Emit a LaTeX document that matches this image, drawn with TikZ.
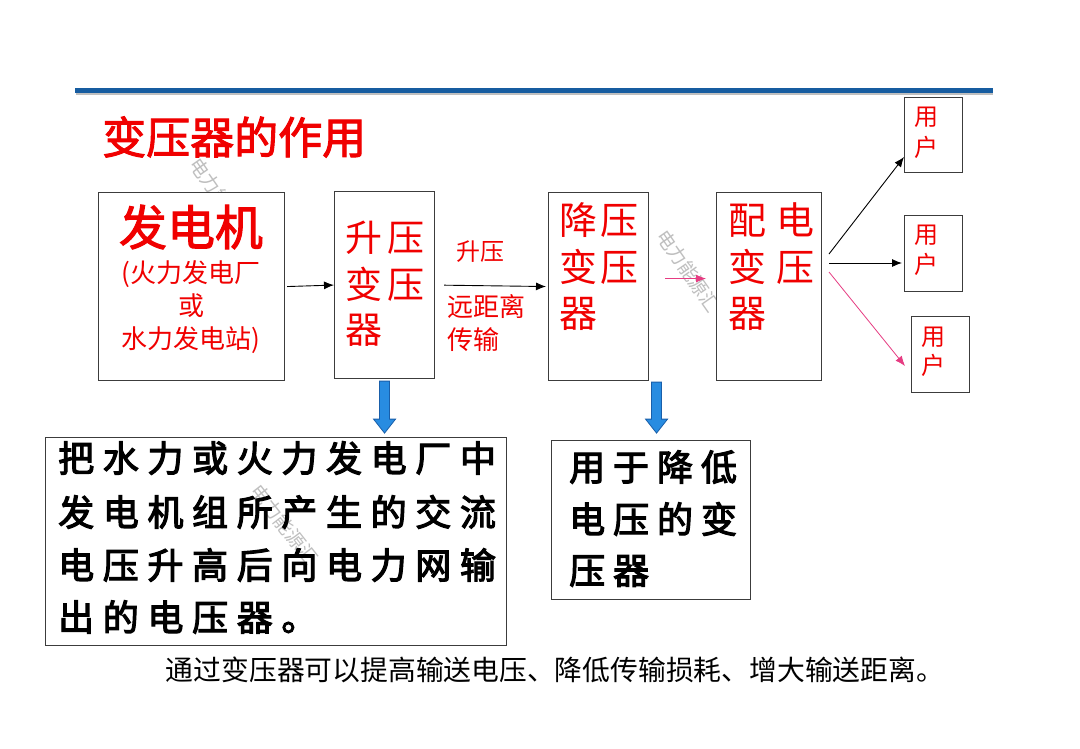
\documentclass[tikz,border=0pt]{standalone}
\usepackage{fontspec}
\newfontfamily\cjk{Noto Sans CJK SC}
\newfontfamily\cjkb[FakeBold=2.2]{Noto Sans CJK SC}
\newfontfamily\cjkbs[FakeBold=3.2,LetterSpace=24]{Noto Sans CJK SC}
\newfontfamily\cjkbt[FakeBold=3.2,LetterSpace=22]{Noto Sans CJK SC}
\usetikzlibrary{arrows.meta}
\definecolor{topblue}{RGB}{22,92,160}
\definecolor{frame}{RGB}{60,60,60}
\definecolor{txtred}{RGB}{240,0,0}
\definecolor{pinkarr}{RGB}{230,60,130}
\definecolor{blockfill}{RGB}{40,140,225}
\definecolor{blockline}{RGB}{25,95,170}
\tikzset{
  box/.style={draw=frame, line width=1.1pt, fill=white, anchor=north west, inner sep=0pt},
  redtxt/.style={text=txtred, font=\cjk, inner sep=0pt},
  conn/.style={-{Latex[length=10pt,width=8pt]}, line width=0.9pt},
  wm/.style={text=black!25, font=\cjk\fontsize{19}{19}\selectfont, inner sep=0pt, anchor=west},
  blockarrow/.style={fill=blockfill, draw=blockline, line width=0.8pt, line join=miter},
}
\begin{document}
\begin{tikzpicture}[x=1pt,y=-1pt]
\useasboundingbox[fill=white] (0,0) rectangle (1080,748);
% top rule
\draw[black!25, line width=3pt] (76,93) -- (993,93);
\draw[topblue, line width=5pt] (75,90) -- (993,90);
% title
\node[redtxt, font=\cjkb\fontsize{44}{44}\selectfont, anchor=west] (title) at (102,137) {变压器的作用};
% watermarks behind boxes
\node[wm, rotate=-55] (wm1) at (194,160) {电力能源汇};
\node[wm, rotate=-55] (wm2) at (661,232) {电力能源汇};
% main boxes
\node[box, minimum width=186pt, minimum height=188pt] (gen) at (98,192) {};
\node[box, minimum width=100pt, minimum height=187pt] (up) at (334,191) {};
\node[box, minimum width=100pt, minimum height=188pt] (down) at (548,192) {};
\node[box, minimum width=105pt, minimum height=188pt] (dist) at (716,192) {};
\node[box, minimum width=58pt, minimum height=75pt] (u1) at (904,97) {};
\node[box, minimum width=58pt, minimum height=76pt] (u2) at (904,215) {};
\node[box, minimum width=58pt, minimum height=76pt] (u3) at (911,316) {};
\node[box, minimum width=461pt, minimum height=208pt] (desc1) at (45,437) {};
\node[box, minimum width=199pt, minimum height=159pt] (desc2) at (551,440) {};
\node[wm, rotate=-52] (wm3) at (255,487) {电力能源汇};
% generator text
\node[redtxt, font=\cjkb\fontsize{48}{48}\selectfont] (t1) at (191,227) {发电机};
\node[redtxt, font=\cjk\fontsize{26}{26}\selectfont] (t2) at (191,274) {(火力发电厂};
\node[redtxt, font=\cjk\fontsize{26}{26}\selectfont] (t3) at (191,306) {或};
\node[redtxt, font=\cjk\fontsize{26}{26}\selectfont] (t4) at (191,340) {水力发电站)};
% step-up text
\node[redtxt, font=\cjk\fontsize{37}{37}\selectfont, anchor=west] (s1) at (345,238) {升\hspace{5pt}压};
\node[redtxt, font=\cjk\fontsize{37}{37}\selectfont, anchor=west] (s2) at (345,284) {变\hspace{5pt}压};
\node[redtxt, font=\cjk\fontsize{37}{37}\selectfont, anchor=west] (s3) at (345,330) {器};
% labels on the line
\node[redtxt, font=\cjk\fontsize{24}{24}\selectfont, anchor=west] (l1) at (456,252) {升压};
\node[redtxt, font=\cjk\fontsize{26}{26}\selectfont, anchor=west] (l2) at (447,307) {远距离};
\node[redtxt, font=\cjk\fontsize{26}{26}\selectfont, anchor=west] (l3) at (447,340) {传输};
% step-down text
\node[redtxt, font=\cjk\fontsize{38}{38}\selectfont, anchor=west] (d1) at (559,220) {降\hspace{3pt}压};
\node[redtxt, font=\cjk\fontsize{38}{38}\selectfont, anchor=west] (d2) at (559,267) {变\hspace{3pt}压};
\node[redtxt, font=\cjk\fontsize{38}{38}\selectfont, anchor=west] (d3) at (559,314) {器};
% distribution text
\node[redtxt, font=\cjk\fontsize{38}{38}\selectfont, anchor=west] (p1) at (728,220) {配\hspace{10pt}电};
\node[redtxt, font=\cjk\fontsize{38}{38}\selectfont, anchor=west] (p2) at (728,267) {变\hspace{10pt}压};
\node[redtxt, font=\cjk\fontsize{38}{38}\selectfont, anchor=west] (p3) at (728,314) {器};
% users
\foreach \n/\x/\ya/\yb in {u1/914/117/147, u2/914/235/264, u3/921/337/365}{
  \node[redtxt, font=\cjk\fontsize{24}{24}\selectfont, anchor=west] (\n a) at (\x,\ya) {用};
  \node[redtxt, font=\cjk\fontsize{24}{24}\selectfont, anchor=west] (\n b) at (\x,\yb) {户};
}
% connectors
\draw[conn] ([xshift=2pt]gen.east) -- (up.west);
\draw[conn, shorten <=9pt, shorten >=2pt] (up.east) -- (down.west);
\draw[conn, draw=pinkarr, line width=0.8pt, shorten <=16pt, shorten >=10pt] ([yshift=8pt]down.east) -- ([yshift=8pt]dist.east -| dist.west);
\coordinate (f1) at (829,254);
\coordinate (f2) at (829,263);
\coordinate (f3) at (829,272);
\draw[conn] (f1) -- ([yshift=-60pt]u1.north west);
\draw[conn] (f2) -- ([xshift=-2pt,yshift=-48pt]u2.north west);
\draw[conn, draw=pinkarr, line width=0.8pt] (f3) -- ([xshift=-6pt,yshift=-50pt]u3.north west);
% block arrows
\draw[blockarrow] ([xshift=-5pt,yshift=-2pt]up.south) -- ++(0,38) -- ++(-6,0) -- ++(11,14) -- ++(11,-14) -- ++(-6,0) -- ++(0,-38) -- cycle;
\draw[blockarrow] ([xshift=53pt,yshift=-1pt]down.south) -- ++(0,37) -- ++(-6,0) -- ++(11,14) -- ++(11,-14) -- ++(-6,0) -- ++(0,-37) -- cycle;
% description texts
\node[font=\cjkbs\fontsize{36}{36}\selectfont, anchor=west, inner sep=0pt] (e1) at (58,458) {把水力或火力发电厂中};
\node[font=\cjkbs\fontsize{36}{36}\selectfont, anchor=west, inner sep=0pt] (e2) at (58,512) {发电机组所产生的交流};
\node[font=\cjkbs\fontsize{36}{36}\selectfont, anchor=west, inner sep=0pt] (e3) at (58,565) {电压升高后向电力网输};
\node[font=\cjkbs\fontsize{36}{36}\selectfont, anchor=west, inner sep=0pt] (e4) at (58,617) {出的电压器。};
\node[font=\cjkbt\fontsize{36}{36}\selectfont, anchor=west, inner sep=0pt] (g1) at (569,467) {用于降低};
\node[font=\cjkbt\fontsize{36}{36}\selectfont, anchor=west, inner sep=0pt] (g2) at (569,519) {电压的变};
\node[font=\cjkbt\fontsize{36}{36}\selectfont, anchor=west, inner sep=0pt] (g3) at (569,571) {压器};
% caption
\node[font=\cjk\fontsize{27.8}{27.8}\selectfont, inner sep=0pt] (cap) at (555,670) {通过变压器可以提高输送电压、降低传输损耗、增大输送距离。};
\end{tikzpicture}
\end{document}
